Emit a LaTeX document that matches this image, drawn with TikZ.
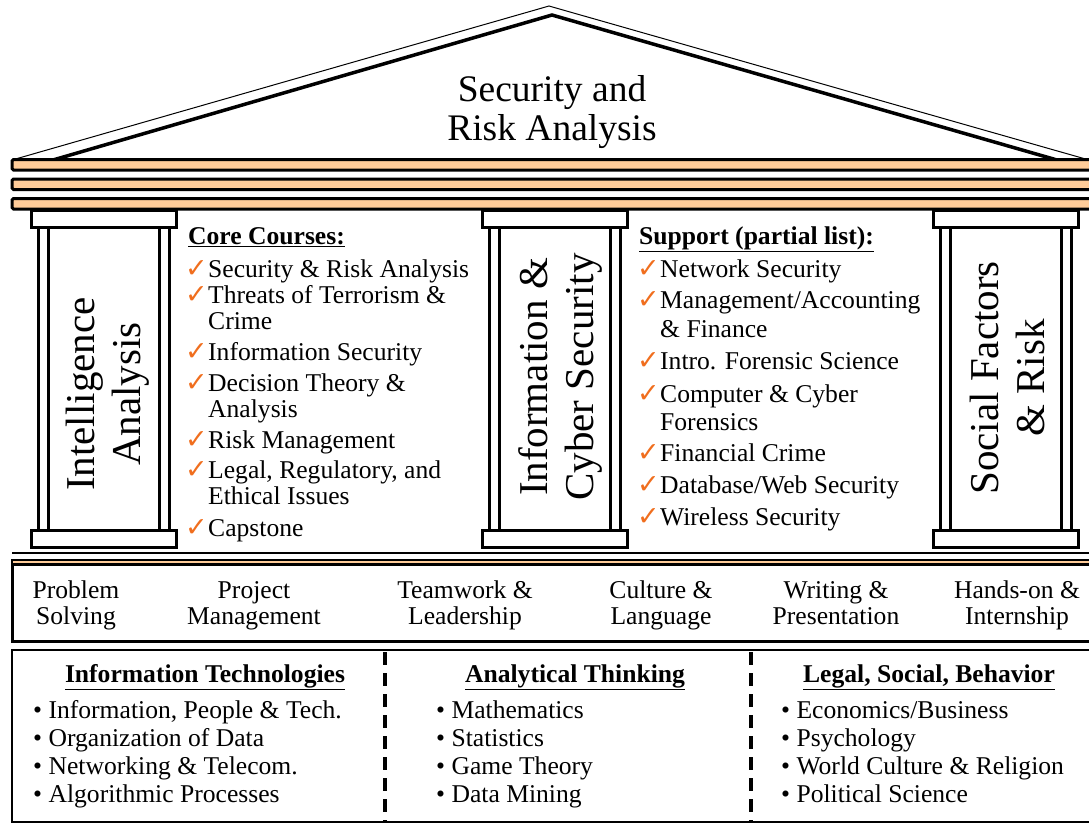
\documentclass[tikz,border=0pt]{standalone}
\usepackage{fontspec}
\setmainfont{Liberation Serif}
\newfontfamily\symfont{DejaVu Sans}
\usetikzlibrary{positioning}
\definecolor{beamfill}{RGB}{255,204,153}
\definecolor{tickorange}{RGB}{240,110,30}
\tikzset{
  beam/.style={draw, line width=3pt, fill=beamfill, rounded corners=1.5pt},
  slab/.style={draw, line width=3pt, fill=white},
  shaft/.style={line width=3pt},
  divider/.style={line width=3.5pt, dash pattern=on 13pt off 8pt},
  txt/.style={inner sep=0pt, font=\fontsize{25.6}{26}\selectfont},
  item/.style={txt, anchor=base west},
  tick/.style={inner sep=0pt, anchor=base east, text=tickorange, font=\fontsize{27}{26}\symfont},
  skill/.style={txt, align=center, anchor=base},
  head/.style={txt, font=\fontsize{25.6}{26}\selectfont\bfseries},
  pillarlabel/.style={inner sep=0pt, rotate=90, align=center, font=\fontsize{41}{46}\selectfont},
}

\begin{document}
\begin{tikzpicture}[x=1pt,y=-1pt]
  \useasboundingbox (0,0) rectangle (1089,823);
  \clip (0,0) rectangle (1089,823);
  % roof
  \draw[line width=1pt] (12,160) -- (549,6) -- (1089,160);
  \draw[line width=3.5pt] (53,160) -- (552,15) -- (1057,160);
  \node[inner sep=0pt, align=center, anchor=base, font=\fontsize{37.5}{39}\selectfont] (title) at (552,140) {Security and\\Risk Analysis};
  % beams
  \draw[beam] (12,159.5) rectangle (1100,170);
  \draw[beam] (12,179) rectangle (1100,189.5);
  \draw[beam] (12,198.5) rectangle (1100,209);
  % pillars
  \foreach \px in {31,482,933}{
    \draw[slab] (\px,210) rectangle (\px+145,227);
    \foreach \dx in {7,17,128,138}
      \draw[shaft] (\px+\dx,227) -- (\px+\dx,530);
    \draw[slab] (\px,530) rectangle (\px+145,547);
  }
  \node[pillarlabel] (intel) at (108,394) {Intelligence\\Analysis};
  \node[pillarlabel] (cyber) at (560,377) {Information \&\\Cyber Security};
  \node[pillarlabel] (social) at (1007,378) {Social Factors\\\& Risk};
  % core courses
  \node[head, anchor=base west] (corehead) at (188,244) {\underline{Core Courses:}};
  \foreach \y/\t in {277/{Security \& Risk Analysis}, 303/{Threats of Terrorism \&}, 329/Crime,
      360/Information Security, 391/{Decision Theory \&}, 417/Analysis, 448/Risk Management,
      478/{Legal, Regulatory, and}, 504/Ethical Issues, 536/Capstone}
    \node[item] (core\y) at (208,\y) {\t};
  \foreach \y in {277,303,360,391,448,478,536}
    \node[tick] (coretick\y) at (208,\y) {✓};
  % support courses
  \node[head, anchor=base west] (suphead) at (639,244) {\underline{Support (partial list):}};
  \foreach \y/\t in {277/Network Security, 308/{Management/Accounting}, 337/{\& Finance},
      369/Intro. Forensic Science, 402/{Computer \& Cyber}, 430/Forensics, 461/Financial Crime,
      493/{Database/Web Security}, 525/Wireless Security}
    \node[item] (sup\y) at (660,\y) {\t};
  \foreach \y in {277,308,369,402,461,493,525}
    \node[tick] (suptick\y) at (660,\y) {✓};
  % floor and skills
  \draw[line width=2.5pt] (12,553) -- (1100,553);
  \draw[line width=2pt, fill=beamfill] (12,560) rectangle (1100,564.5);
  \draw[line width=3pt] (12,564.5) rectangle (1100,641);
  \foreach \x/\t [count=\i] in {76/{Problem\\Solving}, 254/{Project\\Management},
      465/{Teamwork \&\\Leadership}, 661/{Culture \&\\Language},
      836/{Writing \&\\Presentation}, 1017/{Hands-on \&\\Internship}}
    \node[skill] (skill\i) at (\x,624) {\t};
  % foundation
  \draw[line width=2.5pt] (12,650) rectangle (1100,822);
  \draw[divider] (385,652) -- (385,821);
  \draw[divider] (751,652) -- (751,821);
  \node[head, anchor=base] (ithead) at (205,682) {\underline{Information Technologies}};
  \node[head, anchor=base] (athead) at (575,682) {\underline{Analytical Thinking}};
  \node[head, anchor=base] (lshead) at (929,682) {\underline{Legal, Social, Behavior}};
  \foreach \y/\t in {718/{Information, People \& Tech.}, 746/Organization of Data,
      774/{Networking \& Telecom.}, 802/Algorithmic Processes}
    \node[item] (it\y) at (33,\y) {• \t};
  \foreach \y/\t in {718/Mathematics, 746/Statistics, 774/Game Theory, 802/Data Mining}
    \node[item] (at\y) at (436,\y) {• \t};
  \foreach \y/\t in {718/{Economics/Business}, 746/Psychology,
      774/{World Culture \& Religion}, 802/Political Science}
    \node[item] (ls\y) at (781,\y) {• \t};
\end{tikzpicture}
\end{document}
